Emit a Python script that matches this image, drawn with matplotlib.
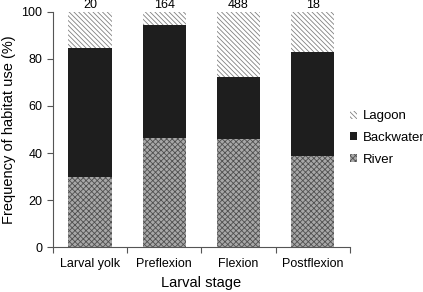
import numpy
import matplotlib
matplotlib.use('Agg')
import matplotlib.pyplot as plot
from matplotlib.ticker import FixedLocator

plot.rcParams['font.family'] = ['Liberation Sans', 'DejaVu Sans']
plot.rcParams['hatch.linewidth'] = 0.6

# Data
stages = ['Larval yolk', 'Preflexion', 'Flexion', 'Postflexion']
sample_sizes = ['20', '164', '488', '18']
river = numpy.array([30.0, 46.5, 46.0, 38.7])
backwater = numpy.array([54.5, 48.0, 26.5, 44.3])
lagoon = 100.0 - river - backwater

f = plot.figure(figsize=(4.23, 2.92), dpi=100)
ax = f.add_axes([0.125, 0.154, 0.702, 0.805])

x = numpy.arange(len(stages))
width = 0.58

b_river = ax.bar(x, river, width, color='#a8a8a8', edgecolor='#505050', hatch='xxxxxx', linewidth=0, label='River')
b_back = ax.bar(x, backwater, width, bottom=river, color='#1e1e1e', edgecolor='#1e1e1e', linewidth=0, label='Backwater')
b_lag = ax.bar(x, lagoon, width, bottom=river + backwater, color='white', edgecolor='#808080', hatch='\\\\\\\\\\\\\\', linewidth=0, label='Lagoon')

# Sample sizes above bars
for xi, n in zip(x, sample_sizes):
    ax.text(xi, 102.8, n, ha='center', va='center', fontsize=9, clip_on=False)

ax.set_xlim(-0.5, 3.5)
ax.set_ylim(0, 100)
ax.set_xticks(x)
ax.set_xticklabels(stages, fontsize=9)
ax.xaxis.set_minor_locator(FixedLocator(numpy.arange(-0.5, 4.0, 1.0)))
ax.tick_params(axis='x', which='major', length=0, pad=8)
ax.tick_params(axis='x', which='minor', length=4, color='#555555', width=0.8)
ax.set_yticks(numpy.arange(0, 101, 20))
ax.tick_params(axis='y', labelsize=9, length=4, color='#555555', width=0.8)

for side in ['top', 'right']:
    ax.spines[side].set_visible(False)
for side in ['left', 'bottom']:
    ax.spines[side].set_color('#555555')
    ax.spines[side].set_linewidth(0.8)

ax.set_xlabel('Larval stage', fontsize=10.5)
ax.set_ylabel('Frequency of habitat use (%)', fontsize=10.5)

handles = [b_lag, b_back, b_river]
leg = f.legend(handles, ['Lagoon', 'Backwater', 'River'], loc='center left', bbox_to_anchor=(350 / 423., 0.527),
               frameon=False, fontsize=9.5, handlelength=0.55, handleheight=0.55, handletextpad=0.4,
               labelspacing=0.75, borderpad=0, borderaxespad=0)

plot.savefig('out.png', dpi=100)
plot.close()
